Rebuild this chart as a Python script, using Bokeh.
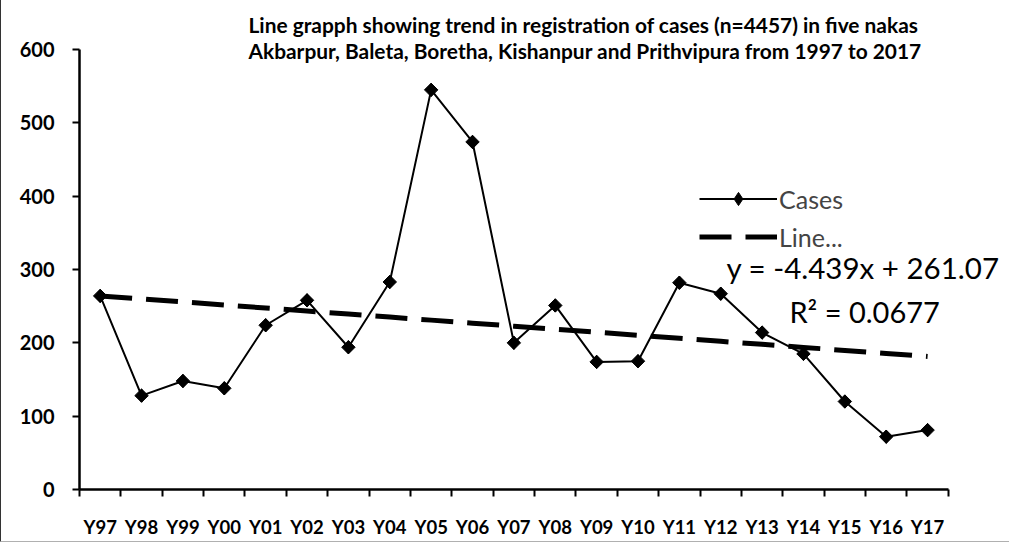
import numpy as np
from bokeh.plotting import figure
from bokeh.models import (Range1d, FixedTicker, Label, Legend, LegendItem)
from bokeh.embed import file_html
from bokeh.resources import INLINE

years = ["Y97", "Y98", "Y99", "Y00", "Y01", "Y02", "Y03", "Y04", "Y05", "Y06", "Y07",
         "Y08", "Y09", "Y10", "Y11", "Y12", "Y13", "Y14", "Y15", "Y16", "Y17"]
cases = [264, 128, 148, 138, 224, 258, 194, 283, 545, 474, 200,
         251, 174, 175, 282, 267, 214, 185, 120, 72, 81]
y_ticks = [0, 100, 200, 300, 400, 500, 600]
title_lines = ["Line grapph showing trend in registration of cases (n=4457) in five nakas",
               "Akbarpur, Baleta, Boretha, Kishanpur and Prithvipura from 1997 to 2017"]
eq_text = "y = -4.439x + 261.07"
r2_text = "R\u00b2 = 0.0677"

x = np.arange(1, len(years) + 1)
slope, intercept = np.polyfit(x, np.array(cases, dtype=float), 1)
trend = slope * x + intercept

FONT = "Lato"
n = len(years)

p = figure(width=1010, height=546, output_backend="svg", toolbar_location=None,
           x_range=Range1d(0.5, 22.98), y_range=Range1d(0, 665.5),
           min_border_left=78, min_border_top=2, min_border_right=2, min_border_bottom=56)
p.styles = {"border-top": "3px solid #2a2a2a", "border-left": "2px solid #333333",
            "border-bottom": "1px solid #b0b0b0",
            "margin-top": "-4px", "margin-left": "-1px", "margin-bottom": "-10px"}
p.outline_line_color = None
p.grid.visible = False
p.background_fill_color = "white"
p.border_fill_color = "white"

# axes
p.yaxis.ticker = FixedTicker(ticks=y_ticks)
p.yaxis.bounds = (0, 600)
p.yaxis.axis_line_width = 2.5
p.yaxis.major_tick_line_width = 2
p.yaxis.major_tick_out = 7
p.yaxis.major_tick_in = 0
p.yaxis.minor_tick_line_color = None
p.yaxis.major_label_standoff = 18
p.yaxis.major_label_text_font = FONT
p.yaxis.major_label_text_font_style = "bold"
p.yaxis.major_label_text_font_size = "20px"
p.yaxis.major_label_text_color = "black"
p.yaxis.axis_line_color = "black"

p.xaxis.ticker = FixedTicker(ticks=list(x), minor_ticks=[i + 0.5 for i in range(0, n + 1)])
p.xaxis.bounds = (0.5, n + 0.5)
p.xaxis.major_label_overrides = {int(i): years[i - 1] for i in x}
p.xaxis.axis_line_width = 2.5
p.xaxis.axis_line_color = "black"
p.xaxis.major_tick_out = 0
p.xaxis.major_tick_in = 0
p.xaxis.minor_tick_out = 7
p.xaxis.minor_tick_in = 0
p.xaxis.minor_tick_line_width = 2
p.xaxis.minor_tick_line_color = "black"
p.xaxis.major_label_standoff = 19
p.xaxis.major_label_text_font = FONT
p.xaxis.major_label_text_font_style = "bold"
p.xaxis.major_label_text_font_size = "18.5px"
p.xaxis.major_label_text_color = "black"

# data
tr = p.line(x, trend, line_color="black", line_width=5, line_dash="32 14")
ln = p.line(x, cases, line_color="black", line_width=2)
# diamond layer (hidden under the rotated squares) used for the legend glyph
dm = p.scatter(x, cases, marker="diamond", size=13, fill_color="black", line_color="black")
sc = p.scatter(x, cases, marker="square", angle=np.pi / 4, size=9.5,
               fill_color="black", line_color="black")

legend = Legend(items=[LegendItem(label="Cases", renderers=[ln, dm]),
                       LegendItem(label="Line...", renderers=[tr])],
                location=(620, 236), background_fill_alpha=0, border_line_color=None,
                padding=0, margin=0, spacing=5, glyph_width=78, glyph_height=33,
                label_height=33, label_standoff=2,
                label_text_font=FONT, label_text_font_size="25px")
p.add_layout(legend, "center")

# texts
for t, yv in zip(title_lines, [633.7, 598.2]):
    p.add_layout(Label(x=4.585, y=yv, text=t, text_font=FONT, text_font_style="bold",
                       text_font_size="20.9px", text_color="black", text_baseline="alphabetic"))
p.add_layout(Label(x=16.14, y=302.5, text=eq_text, text_font=FONT, text_font_size="29.5px",
                   text_color="black", text_baseline="alphabetic"))
p.add_layout(Label(x=17.66, y=242.6, text=r2_text, text_font=FONT, text_font_size="29px",
                   text_color="black", text_baseline="alphabetic"))

open("out.html", "w").write(file_html(p, INLINE))
